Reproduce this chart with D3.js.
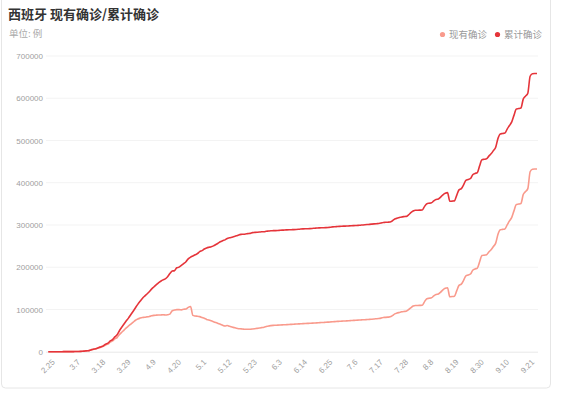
<!DOCTYPE html>
<html><head><meta charset="utf-8">
<script src="https://cdn.jsdelivr.net/npm/d3@7"></script>
<style>
html,body{margin:0;padding:0;background:#fff;}
svg{display:block;font-family:"Noto Sans CJK SC","Noto Sans",sans-serif;}
</style></head>
<body><svg id="c" width="564" height="394"></svg>
<script>
// ---- data ----
const startDay = new Date(2020, 1, 23);   // 2.23
const endDay = new Date(2020, 8, 24);     // exclusive -> last 9.23
const yTicks = [0, 100000, 200000, 300000, 400000, 500000, 600000, 700000];
const seriesNames = ["现有确诊", "累计确诊"];

const cumulative = [
2,3,6,13,15,32,45,84,120,165,
222,259,400,500,673,1073,1695,2277,3146,5232,
6391,7798,9942,11748,13910,17963,20410,25374,28603,35136,
39885,49515,57786,65719,73235,80110,87956,95923,104118,112065,
119199,126168,131646,136675,141942,148220,153222,158273,163027,166831,
170099,172541,177644,184948,190839,191726,198674,200210,204178,208389,
213024,219764,223759,226629,229422,232128,236899,239369,242988,245567,
247122,248301,250561,253682,256855,260117,262783,264663,268143,269520,
271095,272646,274367,276505,277719,278188,278803,279524,280117,281904,
282370,282852,283339,283849,283849,284986,285644,286308,286509,286718,
287012,287406,287740,288058,288390,288630,288797,289046,289360,289787,
290289,290685,291008,291189,291408,291763,292348,292655,293018,293352,
293584,293832,294166,294566,295549,295850,296351,296739,297054,297300,
297500,297800,298100,298400,298700,299000,299500,300000,300500,301000,
301500,302000,302500,303000,303500,304500,306000,306300,306600,307000,
310000,314000,316000,317500,319000,319800,320300,324000,329000,333000,
335000,335000,335200,335500,344000,350500,351500,352500,357000,360500,
361500,366000,371500,375000,376500,356000,356500,357000,370000,383000,
386000,395000,405500,407500,410000,419000,422000,424000,440000,454500,
455500,456500,463000,468500,476000,484000,505000,515500,516500,517500,
527000,535500,544000,560000,574500,575500,577000,598000,605000,612000,
652000,658000,658500,658500
];

const current = [
2,3,6,13,15,32,45,82,118,162,
218,254,390,485,640,1020,1620,2140,2950,4880,
5850,7200,9150,10800,12800,16000,18000,22500,25500,30200,
33500,40500,46000,51200,56500,61000,65500,70000,74500,77500,
79500,81000,81500,82500,83500,85000,86000,86500,86800,87000,
87500,87000,87500,89000,97000,98500,99500,99500,99000,100500,
101000,105000,107000,86000,84500,84000,83000,81000,79000,76500,
75000,73000,71000,69000,67000,65000,62500,61000,62000,60000,
58500,57000,55500,54500,54000,53500,53000,53000,53200,53800,
54500,55300,56000,57000,58000,59500,61000,61800,62300,62600,
62900,63200,63500,63800,64100,64400,64800,65100,65400,65800,
66100,66400,66700,67000,67300,67600,67900,68200,68600,69000,
69300,69700,70100,70500,70900,71300,71700,72000,72400,72700,
73000,73300,73700,74100,74500,74800,75100,75500,75800,76200,
76500,77000,77500,78000,78600,79500,81000,81300,81800,82500,
85500,89500,91500,93000,94500,95300,95800,99500,104000,108000,
109500,109500,109700,110000,118500,125500,126500,127500,132000,135500,
136500,141000,146500,150000,151500,130000,130500,131500,144000,157000,
160000,169000,179500,181500,184000,193000,196000,198000,213000,227500,
228500,229500,236000,241500,249000,257000,278000,288500,289500,290500,
300000,309500,318000,334000,348500,349500,351000,372000,379000,386000,
426000,432000,432500,432500
];

// ---- build ----
const fmt = d => (d.getMonth() + 1) + "." + d.getDate();
const categories = d3.timeDay.range(startDay, endDay).map(fmt);
const tickLabels = categories.filter((d, i) => i >= 2 && (i - 2) % 11 === 0);

const svg = d3.select("#c");
const colors = ["#f99a8c", "#e5343a"];

// card
svg.append("rect").attr("x", 1.5).attr("y", -10).attr("width", 549).attr("height", 398)
  .attr("rx", 4).attr("fill", "#fff").attr("stroke", "#e6e6e6");

const x = d3.scalePoint().domain(categories).range([48.3, 537]);
const y = d3.scaleLinear().domain([0, 700000]).range([351.7, 56]);

// grid
svg.append("g").selectAll("line").data(yTicks.filter(d => d > 0)).join("line")
  .attr("x1", 46).attr("x2", 538).attr("y1", d => y(d)).attr("y2", d => y(d))
  .attr("stroke", "#f3f3f3").attr("stroke-width", 1);

// y axis
const ya = svg.append("g").attr("transform", "translate(46,0)")
  .call(d3.axisLeft(y).tickValues(yTicks).tickSize(0).tickPadding(3).tickFormat(d3.format("d")));
ya.select(".domain").remove();
ya.selectAll("text").attr("fill", "#a0a0a0").style("font-size", "8px");

// x axis
const xa = svg.append("g").attr("transform", `translate(0,${y(0)})`)
  .call(d3.axisBottom(x).tickValues(tickLabels).tickSize(0));
xa.select(".domain").attr("stroke", "#e8e8e8").attr("d", "M46,0.5H538");
xa.selectAll("text").attr("fill", "#a0a0a0").style("font-size", "8px")
  .attr("x", 0).attr("y", 0).attr("dy", "0.35em")
  .attr("transform", "translate(0,9) rotate(-45)").style("text-anchor", "end");

// lines
const line = d3.line().x((d, i) => x(categories[i])).y(d => y(d)).curve(d3.curveMonotoneX);
[current, cumulative].forEach((s, k) => {
  svg.append("path").datum(s).attr("d", line).attr("fill", "none")
    .attr("stroke", colors[k]).attr("stroke-width", 1.6).attr("stroke-linejoin", "round");
});

// title
svg.append("text").attr("x", 8).attr("y", 19).text("西班牙 现有确诊/累计确诊")
  .attr("fill", "#333").style("font-size", "13px").style("font-weight", "bold");
svg.append("text").attr("x", 9).attr("y", 37).text("单位: 例")
  .attr("fill", "#aaa").style("font-size", "9.5px");

// legend
const lx = [442.5, 497.5];
seriesNames.forEach((n, k) => {
  svg.append("circle").attr("cx", lx[k]).attr("cy", 34.5).attr("r", 2.6).attr("fill", colors[k]);
  svg.append("text").attr("x", lx[k] + 6.5).attr("y", 38).text(n)
    .attr("fill", "#999").style("font-size", "9.5px");
});
</script></body></html>
